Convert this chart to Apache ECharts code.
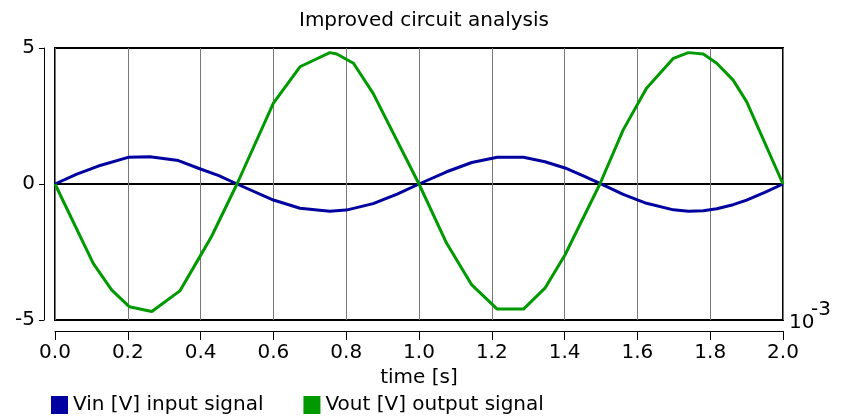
<!DOCTYPE html>
<html>
<head>
<meta charset="utf-8">
<script src="https://cdn.jsdelivr.net/npm/echarts@6/dist/echarts.min.js"></script>
<style>
  html, body { margin: 0; padding: 0; background: #fff; }
  #chart { width: 849px; height: 418px; }
</style>
</head>
<body>
<div id="chart"></div>
<script>
// time axis is in ms (labels shown with the 10^-3 factor)
const xTicks = [0, 0.2, 0.4, 0.6, 0.8, 1.0, 1.2, 1.4, 1.6, 1.8, 2.0];
const yTicks = [-5, 0, 5];

const vinTime = [0, 0.06, 0.119, 0.201, 0.261, 0.339, 0.394, 0.45, 0.5, 0.6, 0.673, 0.755, 0.8, 0.874, 0.94, 1.0,
  1.076, 1.145, 1.215, 1.287, 1.346, 1.401, 1.45, 1.497, 1.561, 1.625, 1.699, 1.74, 1.781, 1.818, 1.863, 1.9, 1.95, 2.0];
const vinValues = [0, 0.36, 0.66, 0.98, 1.0, 0.86, 0.58, 0.31, 0, -0.59, -0.89, -1.0, -0.96, -0.72, -0.37, 0,
  0.45, 0.79, 0.98, 0.98, 0.82, 0.59, 0.31, 0.02, -0.38, -0.71, -0.95, -1.0, -0.98, -0.91, -0.76, -0.59, -0.31, 0];

const voutTime = [0, 0.105, 0.156, 0.204, 0.266, 0.343, 0.398, 0.43, 0.5, 0.6, 0.673, 0.755, 0.774, 0.82, 0.874, 1.0,
  1.076, 1.145, 1.215, 1.287, 1.346, 1.401, 1.497, 1.561, 1.625, 1.699, 1.74, 1.781, 1.818, 1.863, 1.9, 2.0];
const voutValues = [0, -2.92, -3.9, -4.51, -4.69, -3.93, -2.67, -1.93, 0, 2.97, 4.31, 4.83, 4.78, 4.44, 3.33, 0,
  -2.18, -3.71, -4.6, -4.6, -3.83, -2.61, 0, 1.99, 3.52, 4.62, 4.83, 4.78, 4.44, 3.82, 3.03, 0];

const font = "DejaVu Sans";
let myChart = echarts.init(document.getElementById("chart"));
myChart.setOption({
  animation: false,
  title: {
    text: "Improved circuit analysis",
    left: 419,
    top: 6,
    textAlign: "center",
    textStyle: { fontFamily: font, fontSize: 20, fontWeight: "normal", color: "#000" },
  },
  legend: {
    left: 46,
    top: 390,
    icon: "rect",
    itemWidth: 17,
    itemHeight: 18,
    itemGap: 40,
    textStyle: { fontFamily: font, fontSize: 20, color: "#000" },
    data: ["Vin [V] input signal", "Vout [V] output signal"],
  },
  grid: {
    left: 55,
    right: 66,
    top: 48,
    bottom: 98,
    show: true,
    borderColor: "#000",
    borderWidth: 2,
  },
  xAxis: {
    type: "value",
    min: xTicks[0],
    max: xTicks[xTicks.length - 1],
    interval: 0.2,
    offset: 11,
    name: "time [s]",
    nameLocation: "middle",
    nameGap: 30,
    nameTextStyle: { fontFamily: font, fontSize: 20, color: "#000" },
    axisLine: { onZero: false, lineStyle: { color: "#000", width: 1 } },
    axisTick: { length: 9, lineStyle: { color: "#000" } },
    axisLabel: {
      fontFamily: font,
      fontSize: 20,
      color: "#000",
      margin: 12,
      formatter: (v) => v.toFixed(1),
    },
    splitLine: { show: true, lineStyle: { color: "#777", width: 1 } },
  },
  yAxis: {
    type: "value",
    min: yTicks[0],
    max: yTicks[yTicks.length - 1],
    interval: 5,
    offset: 11,
    axisLine: { show: true, onZero: false, lineStyle: { color: "#000", width: 1 } },
    axisTick: { show: true, length: 5, lineStyle: { color: "#000" } },
    axisLabel: { fontFamily: font, fontSize: 20, color: "#000", margin: 9 },
    splitLine: { show: true, lineStyle: { color: "#000", width: 2 } },
  },
  graphic: [
    { type: "text", left: 789, top: 313, style: { text: "10", font: "20px DejaVu Sans", fill: "#000" } },
    { type: "text", left: 811, top: 300, style: { text: "-3", font: "20px DejaVu Sans", fill: "#000" } },
  ],
  series: [
    {
      name: "Vin [V] input signal",
      type: "line",
      showSymbol: false,
      color: "#0000a0",
      lineStyle: { width: 3 },
      data: vinTime.map((t, i) => [t, vinValues[i]]),
    },
    {
      name: "Vout [V] output signal",
      type: "line",
      showSymbol: false,
      color: "#009900",
      lineStyle: { width: 3 },
      data: voutTime.map((t, i) => [t, voutValues[i]]),
    },
  ],
});
</script>
</body>
</html>
